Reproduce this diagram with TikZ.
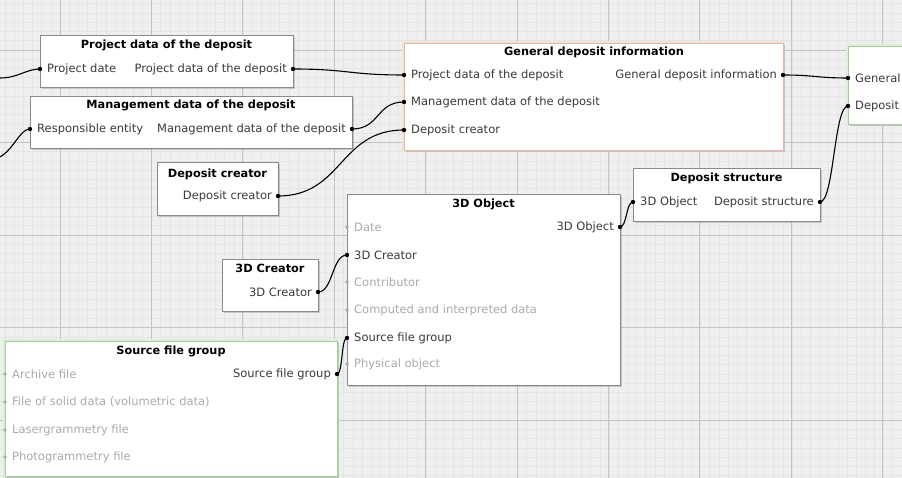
\documentclass[tikz,border=0pt]{standalone}
\usepackage{fontspec}
\setmainfont{DejaVu Sans}
\usetikzlibrary{shadows,calc}
\definecolor{bggray}{HTML}{EFEFEF}
\definecolor{minorline}{HTML}{E5E5E5}
\definecolor{majorline}{HTML}{C4C4C4}
\definecolor{boxgray}{HTML}{8A8A8A}
\definecolor{gdiborder}{HTML}{DDBBA8}
\definecolor{gdiglow}{HTML}{F6E3D8}
\definecolor{grnborder}{HTML}{A6CC9E}
\definecolor{grnglow}{HTML}{DCEFD8}
\definecolor{lbltext}{HTML}{3A3A3A}
\definecolor{offtext}{HTML}{ABABAB}
\definecolor{offdot}{HTML}{A8A8A8}
\begin{document}
\begin{tikzpicture}[x=1pt,y=-1pt,
  font=\fontsize{11.5}{13}\selectfont,
  box/.style={draw=boxgray, fill=white, line width=0.9pt, inner sep=0pt, anchor=north west,
    drop shadow={shadow xshift=1.5pt, shadow yshift=-1.5pt, opacity=0.35}},
  gdibox/.style={box, draw=gdiborder, fill=white},
  grnbox/.style={box, draw=grnborder},
  ttl/.style={font=\fontsize{11.3}{13}\selectfont\bfseries, inner sep=0pt, text=black},
  lblL/.style={anchor=west, inner sep=0pt, text=lbltext},
  lblR/.style={anchor=east, inner sep=0pt, text=lbltext},
  offL/.style={anchor=west, inner sep=0pt, text=offtext},
  conn/.style={draw=black, line width=1.1pt},
  ondot/.style={fill=black},
  offdotst/.style={fill=offdot}
]
\useasboundingbox (0,0) rectangle (902,478);
% background grid
\fill[bggray] (0,0) rectangle (902,478);
\foreach \i in {0,...,98} {
  \draw[minorline, line width=0.5pt] ({5.1+9.15*\i},0) -- ({5.1+9.15*\i},478);
}
\foreach \j in {0,...,51} {
  \draw[minorline, line width=0.5pt] (0,{3.75+9.25*\j}) -- (902,{3.75+9.25*\j});
}
\foreach \i in {0,...,9} {
  \draw[majorline, line width=0.7pt] ({60+91.4*\i},0) -- ({60+91.4*\i},478);
}
\foreach \j in {0,...,4} {
  \draw[majorline, line width=0.7pt] (0,{50+92.5*\j}) -- (902,{50+92.5*\j});
}

% glows
\draw[gdiglow, line width=4pt] (404,43) rectangle (783,150);
\draw[grnglow, line width=4pt] (5,341) rectangle (337,476);
\draw[grnglow, line width=4pt] (848,46) rectangle (910,124);

% boxes
\node[box, minimum width=253pt, minimum height=52pt] (pd) at (40,35) {};
\node[box, minimum width=322pt, minimum height=52pt] (md) at (30,96) {};
\node[box, minimum width=121pt, minimum height=53pt] (dc) at (157,162) {};
\node[gdibox, minimum width=379pt, minimum height=107pt] (gdi) at (404,43) {};
\node[grnbox, minimum width=70pt, minimum height=78pt] (rb) at (848,46) {};
\node[box, minimum width=187pt, minimum height=53pt] (ds) at (633,168) {};
\node[box, minimum width=273pt, minimum height=191pt] (obj) at (347,194) {};
\node[box, minimum width=96pt, minimum height=52pt] (cr) at (222,259) {};
\node[grnbox, minimum width=332pt, minimum height=135pt] (sfg) at (5,341) {};

% titles
\node[ttl] (pdT) at (166.5,45.5) {Project data of the deposit};
\node[ttl] (mdT) at (191,105.5) {Management data of the deposit};
\node[ttl] (dcT) at (217.5,174) {Deposit creator};
\node[ttl] (gdiT) at (594,52.5) {General deposit information};
\node[ttl] (dsT) at (726.5,178.5) {Deposit structure};
\node[ttl] (objT) at (483.5,204.5) {3D Object};
\node[ttl] (crT) at (270,268.5) {3D Creator};
\node[ttl] (sfgT) at (171,351.5) {Source file group};

% ports
\coordinate (ext1) at (0,78);
\coordinate (ext2) at (0,157);
\coordinate (pdIn) at (40,69);
\coordinate (pdOut) at (293,69);
\coordinate (mdIn) at (30,129);
\coordinate (mdOut) at (352,129);
\coordinate (dcOut) at (278,196);
\coordinate (gdiIn1) at (404,75);
\coordinate (gdiIn2) at (404,102);
\coordinate (gdiIn3) at (404,130);
\coordinate (gdiOut) at (783,75);
\coordinate (rbIn1) at (848,78);
\coordinate (rbIn2) at (848,106);
\coordinate (dsIn) at (633,202);
\coordinate (dsOut) at (820,202);
\coordinate (objOut) at (620,227);
\coordinate (objIn1) at (347,227);
\coordinate (objIn2) at (347,255);
\coordinate (objIn3) at (347,282);
\coordinate (objIn4) at (347,310);
\coordinate (objIn5) at (347,338);
\coordinate (objIn6) at (347,364);
\coordinate (crOut) at (318,292);
\coordinate (sfgOut) at (337,374);
\coordinate (sfgIn1) at (5,374);
\coordinate (sfgIn2) at (5,402);
\coordinate (sfgIn3) at (5,430);
\coordinate (sfgIn4) at (5,457);

% labels
\node[lblL] (pdInL) at ($(pdIn)+(7,0)$) {Project date};
\node[lblR] (pdOutL) at ($(pdOut)+(-6,0)$) {Project data of the deposit};
\node[lblL] (mdInL) at ($(mdIn)+(7,0)$) {Responsible entity};
\node[lblR] (mdOutL) at ($(mdOut)+(-6,0)$) {Management data of the deposit};
\node[lblR] (dcOutL) at ($(dcOut)+(-6,0)$) {Deposit creator};
\node[lblL] (gdiIn1L) at ($(gdiIn1)+(7,0)$) {Project data of the deposit};
\node[lblL] (gdiIn2L) at ($(gdiIn2)+(7,0)$) {Management data of the deposit};
\node[lblL] (gdiIn3L) at ($(gdiIn3)+(7,0)$) {Deposit creator};
\node[lblR] (gdiOutL) at ($(gdiOut)+(-6,0)$) {General deposit information};
\node[lblL] (rbIn1L) at ($(rbIn1)+(7,0)$) {General};
\node[lblL] (rbIn2L) at ($(rbIn2)+(7,0)$) {Deposit};
\node[lblL] (dsInL) at ($(dsIn)+(7,0)$) {3D Object};
\node[lblR] (dsOutL) at ($(dsOut)+(-6,0)$) {Deposit structure};
\node[lblR] (objOutL) at ($(objOut)+(-6,0)$) {3D Object};
\node[offL] (objIn1L) at ($(objIn1)+(7,0)$) {Date};
\node[lblL] (objIn2L) at ($(objIn2)+(7,0)$) {3D Creator};
\node[offL] (objIn3L) at ($(objIn3)+(7,0)$) {Contributor};
\node[offL] (objIn4L) at ($(objIn4)+(7,0)$) {Computed and interpreted data};
\node[lblL] (objIn5L) at ($(objIn5)+(7,0)$) {Source file group};
\node[offL] (objIn6L) at ($(objIn6)+(7,0)$) {Physical object};
\node[lblR] (crOutL) at ($(crOut)+(-6,0)$) {3D Creator};
\node[lblR] (sfgOutL) at ($(sfgOut)+(-6,0)$) {Source file group};
\node[offL] (sfgIn1L) at ($(sfgIn1)+(7,0)$) {Archive file};
\node[offL] (sfgIn2L) at ($(sfgIn2)+(7,0)$) {File of solid data (volumetric data)};
\node[offL] (sfgIn3L) at ($(sfgIn3)+(7,0)$) {Lasergrammetry file};
\node[offL] (sfgIn4L) at ($(sfgIn4)+(7,0)$) {Photogrammetry file};

% connectors
\draw[conn] (ext1) .. controls +(18,0) and +(-14,0) .. (pdIn);
\draw[conn] (ext2) .. controls +(14,-8) and +(-10,0) .. (mdIn);
\draw[conn] (pdOut) .. controls +(55,0) and +(-55,0) .. (gdiIn1);
\draw[conn] (mdOut) .. controls +(28,0) and +(-28,0) .. (gdiIn2);
\draw[conn] (dcOut) .. controls +(65,0) and +(-65,0) .. (gdiIn3);
\draw[conn] (gdiOut) .. controls +(32,0) and +(-32,0) .. (rbIn1);
\draw[conn] (dsOut) .. controls +(14,0) and +(-14,0) .. (rbIn2);
\draw[conn] (objOut) .. controls +(7,0) and +(-7,0) .. (dsIn);
\draw[conn] (crOut) .. controls +(15,0) and +(-15,0) .. (objIn2);
\draw[conn] (sfgOut) .. controls +(6,0) and +(-6,0) .. (objIn5);

% port dots
\foreach \p in {pdIn,pdOut,mdIn,mdOut,dcOut,gdiIn1,gdiIn2,gdiIn3,gdiOut,rbIn1,rbIn2,dsIn,dsOut,objOut,objIn2,objIn5,crOut,sfgOut}
  \fill[ondot] (\p) circle (2.2pt);
\foreach \p in {objIn1,objIn3,objIn4,objIn6}
  \fill[offdotst] (\p) circle (1.8pt);
\foreach \p in {sfgIn1,sfgIn2,sfgIn3,sfgIn4}
  \fill[fill=grnborder!70!gray] (\p) circle (1.8pt);
\end{tikzpicture}
\end{document}
